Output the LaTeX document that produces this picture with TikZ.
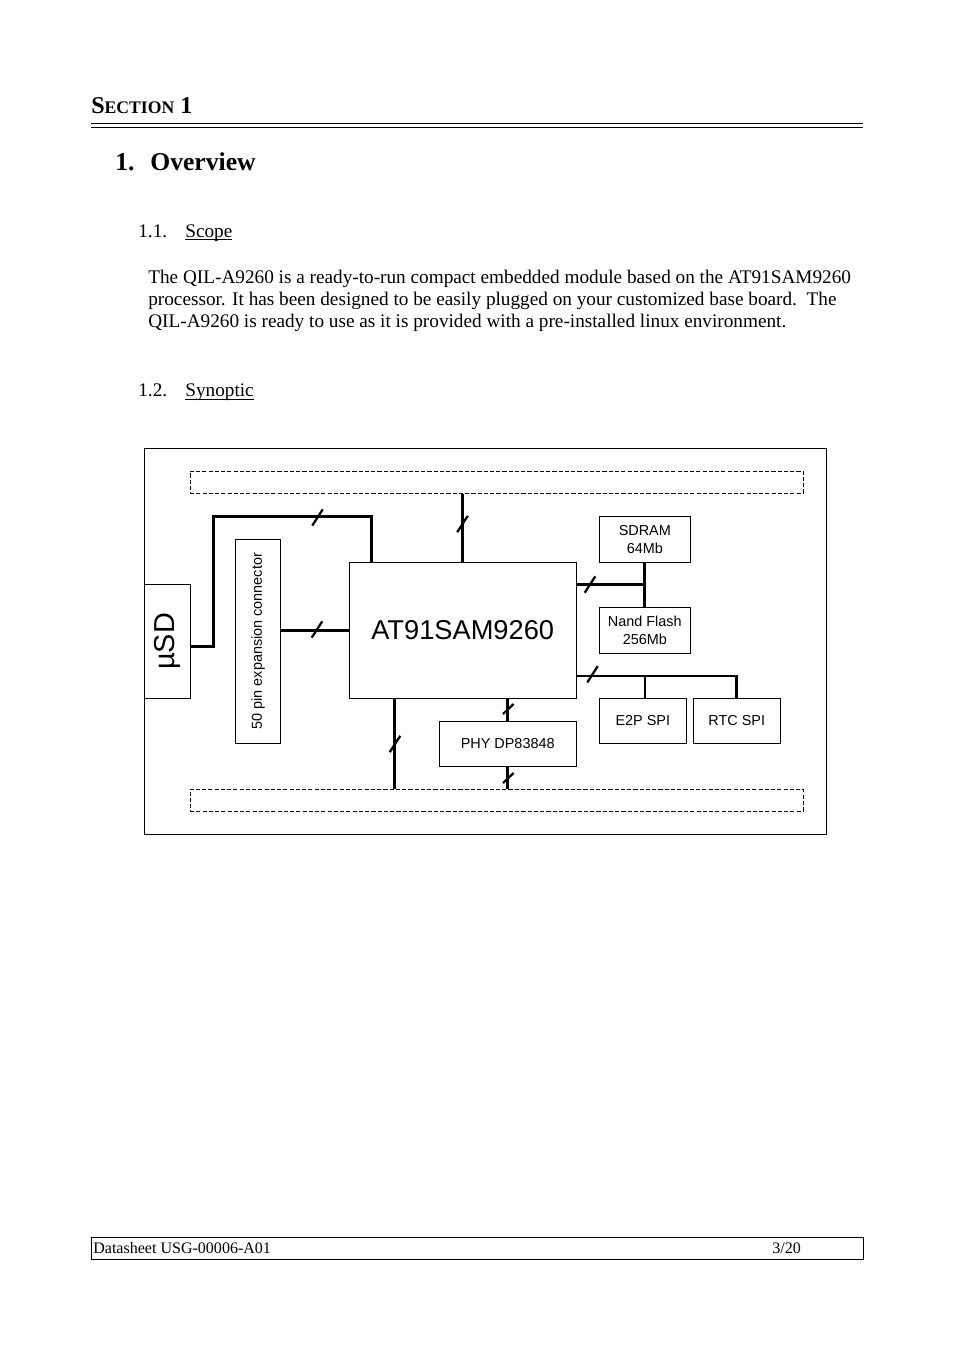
\documentclass[tikz,border=0pt]{standalone}
\usepackage{fontspec}
\setmainfont{Liberation Serif}
\newfontfamily\arialfont{Liberation Sans}
\usetikzlibrary{calc}
\usetikzlibrary{positioning}

\newcommand{\pxu}{0.6237pt}
\newcommand{\wordul}[1]{\setbox0\hbox{#1}\rlap{\rule[-1.8pt]{\wd0}{0.6pt}}\box0}
\newcommand{\busslash}[2][8.2]{\draw[slash] ($(#2)+(-5.3,#1)$) -- ($(#2)+(5.3,-#1)$);}

\tikzset{
 txt/.style={anchor=base west, inner sep=0pt, font=\fontsize{12}{14}\selectfont},
 blk/.style={draw, line width=0.6pt, inner sep=0pt, align=center, font=\arialfont\fontsize{9}{11.2}\selectfont},
 bar/.style={draw, line width=0.5pt, dash pattern=on 2.6pt off 1.3pt, inner sep=0pt},
 bus/.style={line width=1.8pt},
 slash/.style={line width=1.4pt},
}

\begin{document}
\begin{tikzpicture}[x=\pxu, y=-\pxu]
\fill[white] (0,0) rectangle (954,1351);
\useasboundingbox (0,0) rectangle (954,1351);

% page heading
\node[txt, font=\bfseries\fontsize{15}{18}\selectfont] (sec) at (91,114) {S{\fontsize{11}{13}\selectfont ECTION} 1};
\draw[line width=1pt] (91,123.5) -- (863,123.5);
\draw[line width=0.5pt] (91,127.5) -- (863,127.5);
\node[txt, font=\bfseries\fontsize{16}{19}\selectfont] (chnum) at (115,171) {1.};
\node[txt, font=\bfseries\fontsize{16}{19}\selectfont] (chtitle) at (150,171) {Overview};

\node[txt] (scnum) at (138,237.5) {1.1.};
\node[txt] (sctitle) at (185,237.5) {\wordul{Scope}};
\node[txt] (par1) at (148,284) {The QIL-A9260 is a ready-to-run compact embedded module based on the AT91SAM9260};
\node[txt] (par2) at (148,306) {processor. It has been designed to be easily plugged on your customized base board.\ \ The};
\node[txt] (par3) at (148,328) {QIL-A9260 is ready to use as it is provided with a pre-installed linux environment.};
\node[txt] (synnum) at (138,397) {1.2.};
\node[txt] (syntitle) at (185,397) {\wordul{Synoptic}};

% synoptic
\node[draw, line width=0.6pt, minimum width=682*\pxu, minimum height=386*\pxu] (board) at (485,641) {};
\node[bar, minimum width=613*\pxu, minimum height=22.3*\pxu] (topbar) at (496.5,482.2) {};
\node[bar, minimum width=613*\pxu, minimum height=22*\pxu] (botbar) at (496.5,800) {};

\node[blk, rotate=90, minimum width=114*\pxu, minimum height=46.4*\pxu, font=\arialfont\fontsize{18}{20}\selectfont] (usd) at (167.5,641.3) {µSD};
\node[blk, rotate=90, minimum width=204*\pxu, minimum height=45*\pxu] (exp) at (258.2,641.2) {50 pin expansion connector};
\node[blk, minimum width=226.7*\pxu, minimum height=136*\pxu, font=\arialfont\fontsize{17}{20}\selectfont] (cpu) at (462.7,630.3) {AT91SAM9260};
\node[blk, minimum width=91*\pxu, minimum height=46.3*\pxu] (sdram) at (644.8,539.2) {SDRAM\\64Mb};
\node[blk, minimum width=91*\pxu, minimum height=46*\pxu] (nand) at (644.8,630.3) {Nand Flash\\256Mb};
\node[blk, minimum width=87*\pxu, minimum height=45*\pxu] (e2p) at (642.8,720.8) {E2P SPI};
\node[blk, minimum width=86.7*\pxu, minimum height=45*\pxu] (rtc) at (736.7,720.8) {RTC SPI};
\node[blk, minimum width=136.7*\pxu, minimum height=45*\pxu] (phy) at (507.7,743.5) {PHY DP83848};

\coordinate (memj) at ($(sdram.south)!0.5!(nand.north)$);
\coordinate (spij) at (645,676);
\coordinate (ebi) at ($(cpu.south west)+(45.7,0)$);
\coordinate (sdj) at ($(usd.south)+(0,5.4)$);

\draw[bus] (sdj) -- ++(22,0) |- ($(cpu.north west)+(22.4,-45.6)$) -- ($(cpu.north west)+(22.4,0)$);
\draw[bus] (exp.south |- cpu.west) -- (cpu.west);
\draw[bus] (cpu.north) -- (cpu.north |- topbar.south);
\draw[bus] (cpu.east |- memj) -- (memj);
\draw[bus] (sdram.south) -- (nand.north);
\draw[bus] (cpu.east |- spij) -- (spij -| rtc.north) -- (rtc.north);
\draw[bus] (spij) -- (spij |- e2p.north);
\draw[bus] (ebi) -- (ebi |- botbar.north);
\draw[bus] (cpu.south -| phy.north) -- (phy.north);
\draw[bus] (phy.south) -- (phy.south |- botbar.north);

\busslash{317.5,517.5}
\busslash{317,629.5}
\busslash{462.5,524}
\busslash{590,584.5}
\busslash{592.5,674.3}
\busslash{395,744}
\busslash[5]{508.3,709}
\busslash[5]{508.3,778}

% footer
\node[draw, line width=0.6pt, minimum width=772*\pxu, minimum height=22*\pxu, inner sep=0pt] (foot) at (477,1248) {};
\node[txt, font=\fontsize{10}{12}\selectfont] (docref) at (93,1253) {Datasheet USG-00006-A01};
\node[txt, font=\fontsize{10}{12}\selectfont] (pageno) at (772,1253) {3/20};
\end{tikzpicture}
\end{document}
